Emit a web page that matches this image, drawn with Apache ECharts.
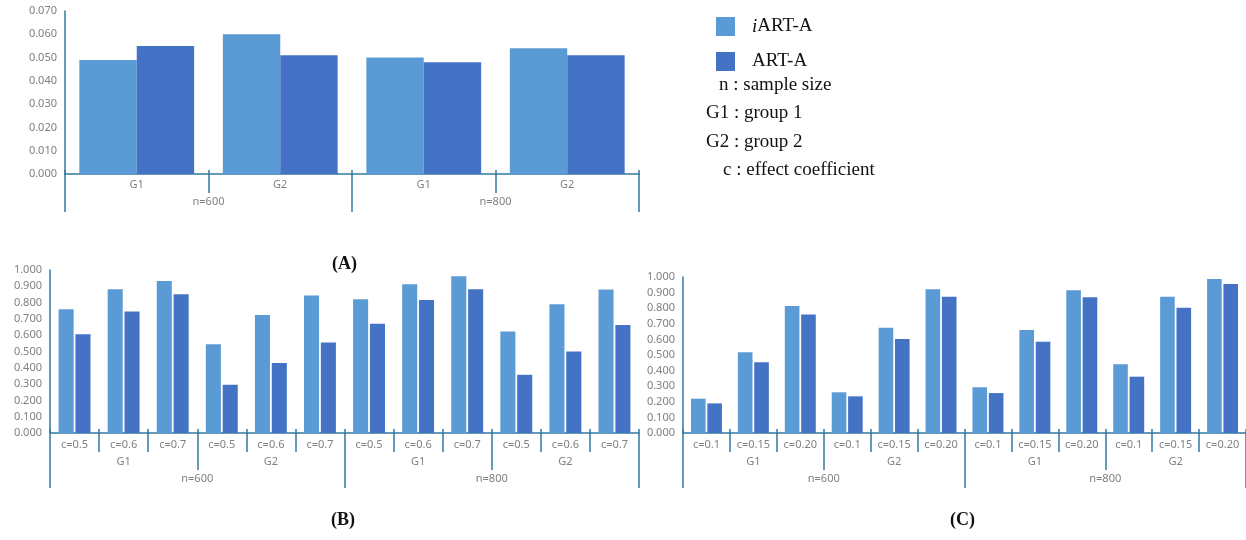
<!DOCTYPE html>
<html>
<head>
<meta charset="utf-8">
<script src="https://cdn.jsdelivr.net/npm/echarts@6/dist/echarts.min.js"></script>
<style>html,body{margin:0;padding:0;background:#fff;}#chart{width:1246px;height:540px;}</style>
</head>
<body>
<div id="chart"></div>
<script>
// ---------- data ----------
const seriesNames = ['iART-A', 'ART-A'];
const nLabels = ['n=600', 'n=800'];
const gLabels = ['G1', 'G2', 'G1', 'G2'];

// Chart (A)
const iartA = [0.049, 0.060, 0.050, 0.054];
const artA  = [0.055, 0.051, 0.048, 0.051];
const yTicksA = { min: 0, max: 0.07, interval: 0.01 };

// Chart (B)
const cB = ['c=0.5','c=0.6','c=0.7','c=0.5','c=0.6','c=0.7','c=0.5','c=0.6','c=0.7','c=0.5','c=0.6','c=0.7'];
const iartB = [0.759, 0.882, 0.933, 0.545, 0.724, 0.843, 0.820, 0.912, 0.961, 0.622, 0.790, 0.880];
const artB  = [0.606, 0.745, 0.851, 0.296, 0.429, 0.555, 0.671, 0.816, 0.882, 0.357, 0.500, 0.663];

// Chart (C)
const cC = ['c=0.1','c=0.15','c=0.20','c=0.1','c=0.15','c=0.20','c=0.1','c=0.15','c=0.20','c=0.1','c=0.15','c=0.20'];
const iartC = [0.220, 0.517, 0.814, 0.261, 0.675, 0.921, 0.293, 0.660, 0.915, 0.440, 0.874, 0.987];
const artC  = [0.190, 0.453, 0.759, 0.235, 0.603, 0.874, 0.256, 0.585, 0.870, 0.361, 0.803, 0.955];
const yTicksBC = { min: 0, max: 1, interval: 0.1 };

const legendNotes = ['n : sample size', 'G1 : group 1', 'G2 : group 2', 'c : effect coefficient'];
const panelTitles = ['(A)', '(B)', '(C)'];

// ---------- style ----------
const C_IART = '#5B9BD5';
const C_ART = '#4472C4';
const AXIS = '#3278A0';
const LBL = '#808080';
const SANS = 'Noto Sans';
const SERIF = 'Liberation Serif';

const chart = echarts.init(document.getElementById('chart'));

function catAxis(grid, data, tickLen, margin, showLine, showLabel, inside) {
  return {
    type: 'category', gridIndex: grid, position: 'bottom', offset: 0,
    data: data, boundaryGap: true,
    axisLine: { show: showLine, lineStyle: { color: AXIS, width: 1.5 } },
    axisTick: { show: true, inside: !!inside, alignWithLabel: false, interval: 0, length: tickLen, lineStyle: { color: AXIS, width: 1.5 } },
    axisLabel: { show: showLabel, interval: 0, margin: margin, color: LBL, fontFamily: SANS, fontSize: 11 },
    splitLine: { show: false }
  };
}
function valAxis(grid, t) {
  return {
    type: 'value', gridIndex: grid, min: t.min, max: t.max, interval: t.interval,
    axisLine: { show: true, lineStyle: { color: AXIS, width: 1.5 } },
    axisTick: { show: false },
    splitLine: { show: false },
    axisLabel: { margin: 8, color: LBL, fontFamily: SANS, fontSize: 11, formatter: v => v.toFixed(3) }
  };
}

const xAxes = [
  // grid 0 (A)
  catAxis(0, gLabels, 19, 5, true, true),
  catAxis(0, nLabels, 38, 22, false, true),
  catAxis(0, gLabels, 4, 0, false, false, true),
  // grid 1 (B)
  catAxis(1, cB, 19, 6, true, true),
  catAxis(1, gLabels, 37, 23, false, true),
  catAxis(1, nLabels, 55, 40, false, true),
  catAxis(1, cB, 4, 0, false, false, true),
  // grid 2 (C)
  catAxis(2, cC, 19, 6, true, true),
  catAxis(2, gLabels, 37, 23, false, true),
  catAxis(2, nLabels, 55, 40, false, true),
  catAxis(2, cC, 4, 0, false, false, true)
];

function bar(name, data, color, xi, yi, catGap, gap) {
  return {
    type: 'bar', name: name, data: data, xAxisIndex: xi, yAxisIndex: yi,
    barCategoryGap: catGap, barGap: gap,
    itemStyle: { color: color }
  };
}

const option = {
  backgroundColor: '#fff',
  animation: false,
  grid: [
    { left: 65, top: 11, width: 574, height: 163 },
    { left: 50, top: 270, width: 589, height: 163 },
    { left: 683, top: 277, width: 563, height: 156 }
  ],
  xAxis: xAxes,
  yAxis: [valAxis(0, yTicksA), valAxis(1, yTicksBC), valAxis(2, yTicksBC)],
  legend: {
    orient: 'vertical', left: 716, top: 17, padding: 0,
    itemWidth: 19, itemHeight: 19, itemGap: 16, icon: 'rect',
    data: seriesNames,
    formatter: n => n === 'iART-A' ? '{it|i}{t|ART-A}' : '{t|ART-A}',
    textStyle: {
      fontFamily: SERIF, fontSize: 19, color: '#111', padding: [0, 0, 0, 12],
      rich: {
        it: { fontFamily: SERIF, fontSize: 19, fontStyle: 'italic', color: '#111' },
        t: { fontFamily: SERIF, fontSize: 19, color: '#111' }
      }
    }
  },
  graphic: [
    { type: 'text', left: 719, top: 76, style: { text: legendNotes[0], font: '19px "Liberation Serif"', fill: '#111' } },
    { type: 'text', left: 706, top: 104, style: { text: legendNotes[1], font: '19px "Liberation Serif"', fill: '#111' } },
    { type: 'text', left: 706, top: 133, style: { text: legendNotes[2], font: '19px "Liberation Serif"', fill: '#111' } },
    { type: 'text', left: 723, top: 161, style: { text: legendNotes[3], font: '19px "Liberation Serif"', fill: '#111' } },
    { type: 'text', left: 332, top: 255, style: { text: panelTitles[0], font: 'bold 18px "Liberation Serif"', fill: '#111' } },
    { type: 'text', left: 331, top: 511, style: { text: panelTitles[1], font: 'bold 18px "Liberation Serif"', fill: '#111' } },
    { type: 'text', left: 950, top: 511, style: { text: panelTitles[2], font: 'bold 18px "Liberation Serif"', fill: '#111' } }
  ],
  series: [
    bar(seriesNames[0], iartA, C_IART, 0, 0, '20%', '0%'),
    bar(seriesNames[1], artA, C_ART, 0, 0, '20%', '0%'),
    bar(seriesNames[0], iartB, C_IART, 3, 1, '35%', '12%'),
    bar(seriesNames[1], artB, C_ART, 3, 1, '35%', '12%'),
    bar(seriesNames[0], iartC, C_IART, 7, 2, '34%', '12%'),
    bar(seriesNames[1], artC, C_ART, 7, 2, '34%', '12%')
  ]
};
chart.setOption(option);
</script>
</body>
</html>
